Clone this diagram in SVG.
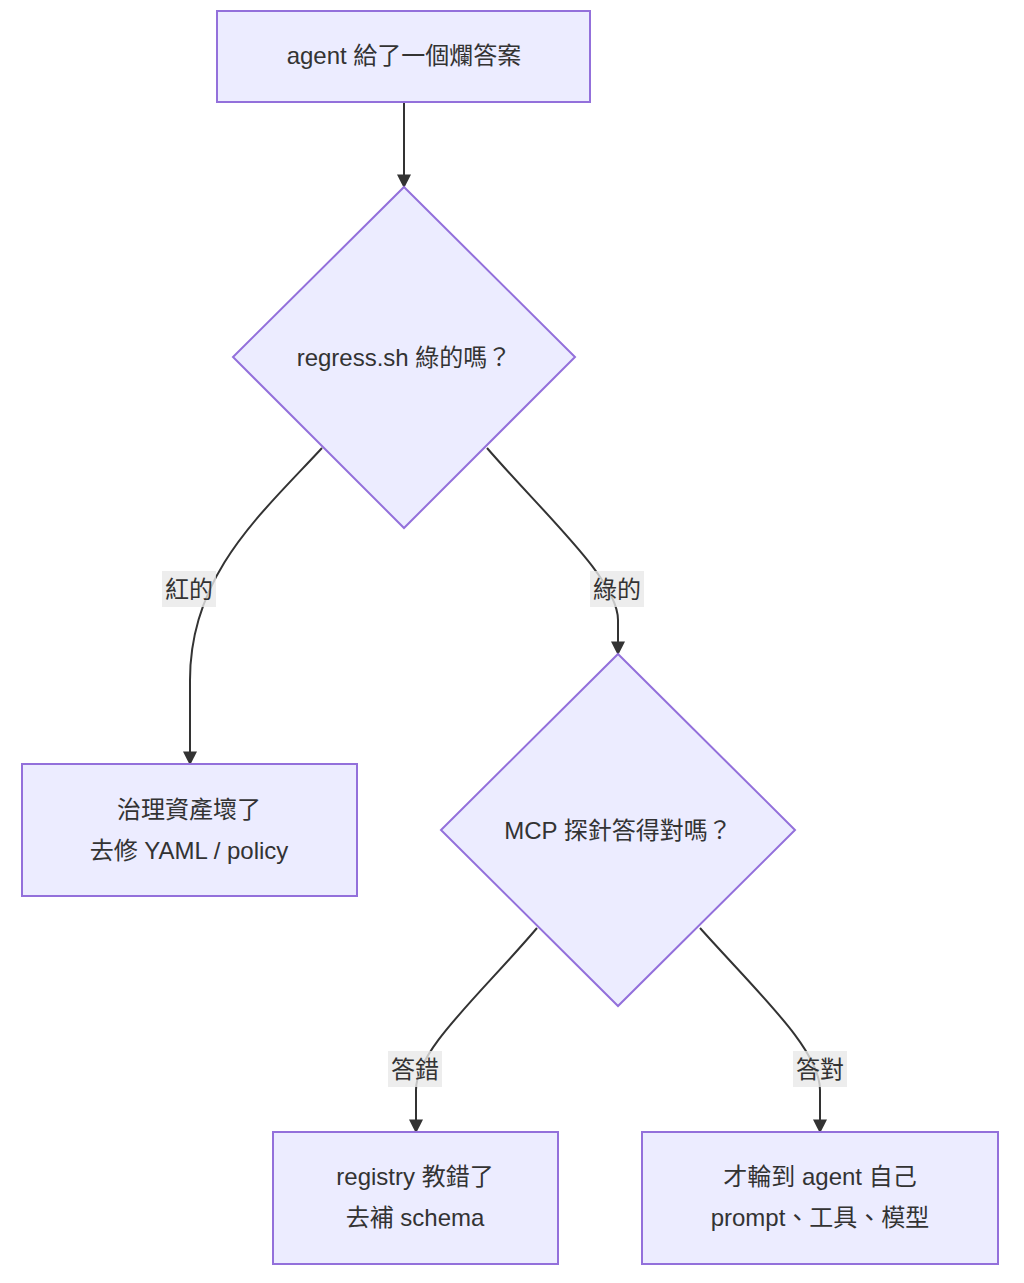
<svg xmlns="http://www.w3.org/2000/svg" width="1024" height="1283" viewBox="0 0 1024 1283">
<style>
.n{fill:#ECECFF;stroke:#9370DB;stroke-width:2}
.t{font-family:"Liberation Sans","Noto Sans CJK TC",sans-serif;font-size:24px;fill:#333;text-anchor:middle;dominant-baseline:central}
.e{fill:none;stroke:#333;stroke-width:2;marker-end:url(#a)}
.lb{fill:#E8E8E8;opacity:0.8}
</style>
<defs><marker id="a" viewBox="0 0 10 10" refX="9" refY="5" markerWidth="7" markerHeight="7" orient="auto"><path d="M0,0L10,5L0,10z" fill="#333"/></marker></defs>
<rect width="1024" height="1283" fill="#fff"/>
<g id="edges">
<path class="e" d="M404,102L404,187"/>
<path class="e" d="M322,448C260,515 190,575 190,680L190,764"/>
<path class="e" d="M487,448C545,515 618,580 618,620L618,654"/>
<path class="e" d="M537,928C480,995 416,1050 416,1090L416,1132"/>
<path class="e" d="M700,928C760,995 820,1050 820,1090L820,1132"/>
<rect class="lb" x="162" y="571" width="54" height="36"/><text class="t" x="189" y="589">紅的</text>
<rect class="lb" x="590" y="571" width="54" height="36"/><text class="t" x="617" y="589">綠的</text>
<rect class="lb" x="388" y="1051" width="54" height="36"/><text class="t" x="415" y="1069">答錯</text>
<rect class="lb" x="793" y="1051" width="54" height="36"/><text class="t" x="820" y="1069">答對</text>
</g>
<g id="start"><rect class="n" x="217" y="11" width="373" height="91"/><text class="t" x="404" y="55">agent 給了一個爛答案</text></g>
<g id="q1"><polygon class="n" points="404,187 575,357 404,528 233,357"/><text class="t" x="404" y="357">regress.sh 綠的嗎？</text></g>
<g id="gov"><rect class="n" x="22" y="764" width="335" height="132"/><text class="t" x="189" y="809">治理資產壞了</text><text class="t" x="189" y="850">去修 YAML / policy</text></g>
<g id="q2"><polygon class="n" points="618,654 795,830 618,1006 441,830"/><text class="t" x="618" y="830">MCP 探針答得對嗎？</text></g>
<g id="reg"><rect class="n" x="273" y="1132" width="285" height="132"/><text class="t" x="415" y="1176">registry 教錯了</text><text class="t" x="415" y="1217">去補 schema</text></g>
<g id="agent"><rect class="n" x="642" y="1132" width="356" height="132"/><text class="t" x="820" y="1176">才輪到 agent 自己</text><text class="t" x="820" y="1217">prompt、工具、模型</text></g>
</svg>
